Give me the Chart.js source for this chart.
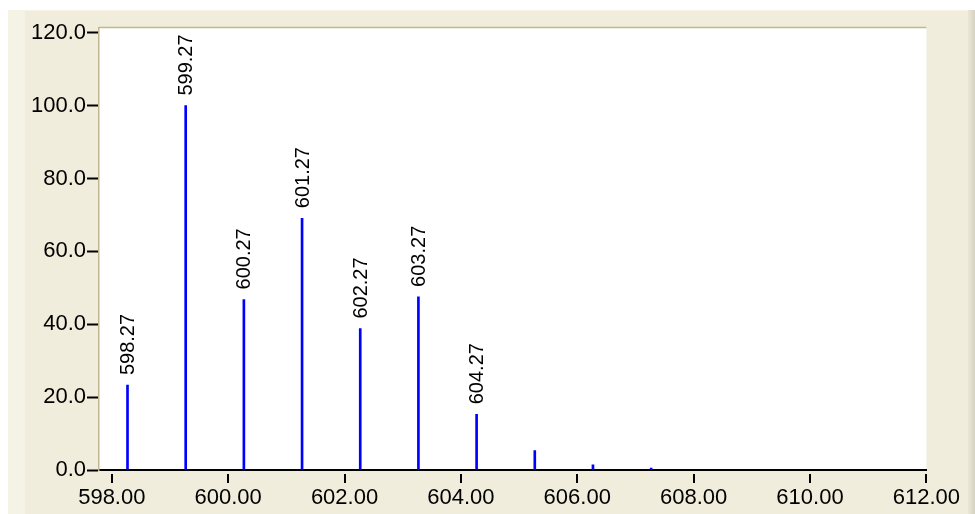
<!DOCTYPE html>
<html>
<head>
<meta charset="utf-8">
<script src="https://cdn.jsdelivr.net/npm/chart.js@4.4.1/dist/chart.umd.min.js"></script>
<style>
  html, body { margin: 0; padding: 0; background: #ffffff; }
  #wrap { width: 975px; height: 514px; }
</style>
</head>
<body>
<div id="wrap"><canvas id="spec" width="975" height="514"></canvas></div>
<script>
// Isotope cluster: m/z positions and relative intensities (%)
const mzValues = [598.27, 599.27, 600.27, 601.27, 602.27, 603.27, 604.27, 605.27, 606.27, 607.27];
const intensities = [23.3, 100.0, 46.8, 69.1, 38.8, 47.5, 15.3, 5.3, 1.4, 0.5];

// Axis tick values
const xTickValues = [598, 600, 602, 604, 606, 608, 610, 612];
const yTickValues = [0, 20, 40, 60, 80, 100, 120];

// Peaks at or above this intensity get their m/z printed above the stick
const LABEL_MIN_INTENSITY = 10;

const CREAM = '#f1eddc';
const FRAME = '#c2b68e';
const STICK = '#0000ff';
const FONT = '"Liberation Sans", Arial, sans-serif';

const points = mzValues.map((mz, i) => ({ x: mz, y: intensities[i] }));

const backdrop = {
  id: 'backdrop',
  beforeDraw(chart) {
    const { ctx, chartArea: a, width, height } = chart;
    ctx.save();
    ctx.fillStyle = '#ffffff';
    ctx.fillRect(0, 0, width, height);
    ctx.fillStyle = CREAM;
    ctx.fillRect(8, 10, 962, height - 10);
    ctx.fillStyle = '#f5f2e6';
    ctx.fillRect(8, 10, 17, height - 10);
    ctx.fillRect(8, 10, 962, 1);
    const g = ctx.createLinearGradient(968, 0, 975, 0);
    g.addColorStop(0, '#ebe7d6');
    g.addColorStop(1, '#d6d2c2');
    ctx.fillStyle = g;
    ctx.fillRect(968, 10, 7, height - 10);
    // plotting field
    ctx.fillStyle = '#ffffff';
    ctx.fillRect(a.left, a.top, a.right - a.left, a.bottom - a.top);
    ctx.restore();
  },
  afterDraw(chart) {
    const { ctx, chartArea: a } = chart;
    const xs = chart.scales.x;
    ctx.save();
    // top frame line
    ctx.strokeStyle = FRAME;
    ctx.lineWidth = 1.5;
    ctx.beginPath();
    ctx.moveTo(a.left, a.top - 0.5);
    ctx.lineTo(a.right, a.top - 0.5);
    ctx.stroke();
    // x tick marks, set slightly below the axis line
    ctx.strokeStyle = '#000000';
    ctx.lineWidth = 2;
    xs.ticks.forEach(t => {
      const px = Math.round(xs.getPixelForValue(t.value));
      ctx.beginPath();
      ctx.moveTo(px, a.bottom + 4);
      ctx.lineTo(px, a.bottom + 13);
      ctx.stroke();
    });
    ctx.restore();
  }
};

const peakLabels = {
  id: 'peakLabels',
  afterDatasetsDraw(chart) {
    const { ctx } = chart;
    const meta = chart.getDatasetMeta(0);
    ctx.save();
    ctx.fillStyle = '#000000';
    ctx.font = '20px ' + FONT;
    ctx.textAlign = 'left';
    ctx.textBaseline = 'middle';
    meta.data.forEach((bar, i) => {
      if (intensities[i] < LABEL_MIN_INTENSITY) return;
      ctx.save();
      ctx.translate(bar.x + 1, bar.y - 10);
      ctx.rotate(-Math.PI / 2);
      ctx.fillText(mzValues[i].toFixed(2), 0, 0);
      ctx.restore();
    });
    ctx.restore();
  }
};

new Chart(document.getElementById('spec'), {
  type: 'bar',
  data: {
    datasets: [{
      data: points,
      backgroundColor: STICK,
      borderWidth: 0,
      barThickness: 2
    }]
  },
  options: {
    responsive: false,
    animation: false,
    devicePixelRatio: 1,
    layout: { padding: { top: 28, right: 48, left: 0, bottom: 0 } },
    plugins: { legend: { display: false }, tooltip: { enabled: false } },
    scales: {
      x: {
        type: 'linear',
        offset: false,
        min: 597.78,
        max: 612,
        afterBuildTicks(scale) { scale.ticks = xTickValues.map(v => ({ value: v })); },
        afterFit(scale) { scale.height = 44; },
        grid: { display: true, offset: false, drawOnChartArea: false, drawTicks: false },
        border: { display: true, color: '#000000', width: 2 },
        ticks: {
          color: '#000000',
          padding: 15,
          maxRotation: 0,
          autoSkip: false,
          font: { family: FONT, size: 22 },
          callback: v => Number(v).toFixed(2)
        }
      },
      y: {
        type: 'linear',
        min: 0,
        max: 121.3,
        afterBuildTicks(scale) { scale.ticks = yTickValues.map(v => ({ value: v })); },
        afterFit(scale) { scale.width = 99; },
        grid: {
          display: true,
          drawOnChartArea: false,
          drawTicks: true,
          tickLength: 12,
          tickWidth: 2,
          tickColor: '#000000'
        },
        border: { display: true, color: FRAME, width: 1.5 },
        ticks: {
          color: '#000000',
          padding: 1,
          autoSkip: false,
          font: { family: FONT, size: 22 },
          callback: v => Number(v).toFixed(1)
        }
      }
    }
  },
  plugins: [backdrop, peakLabels]
});
</script>
</body>
</html>
